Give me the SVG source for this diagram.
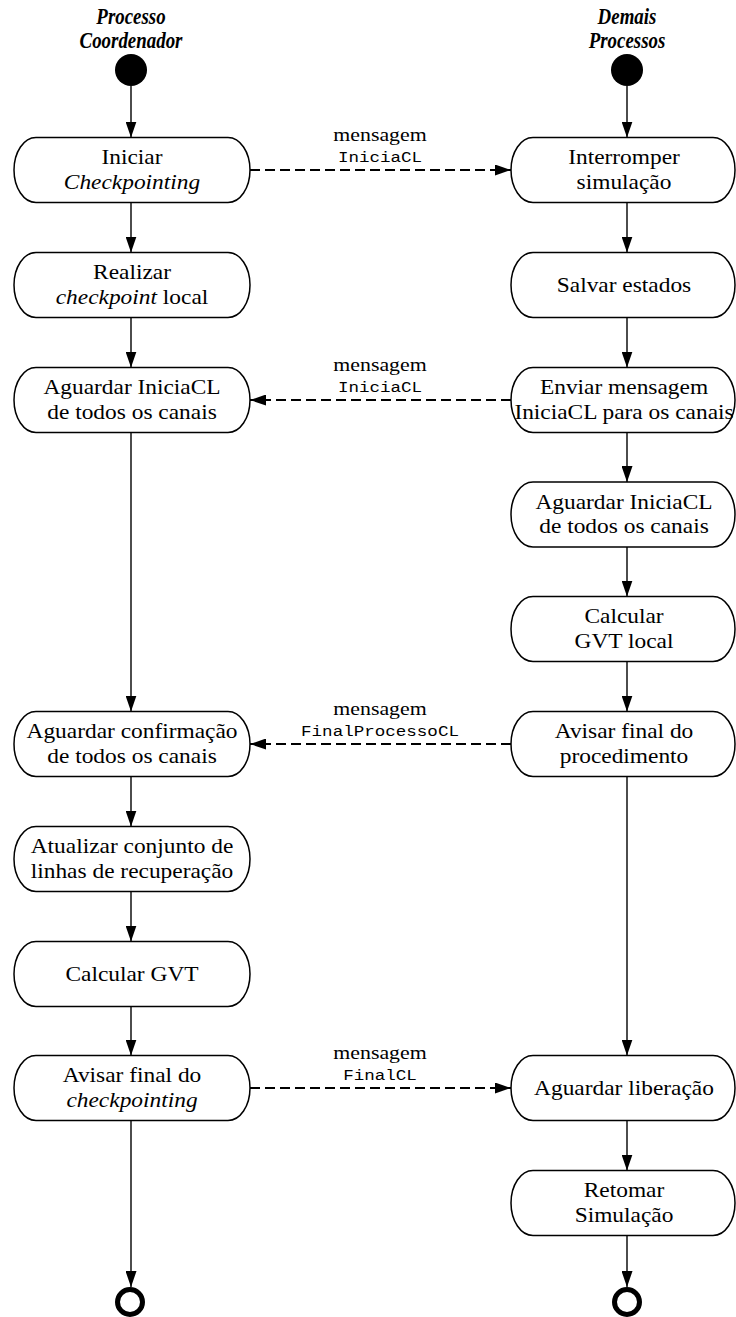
<svg xmlns="http://www.w3.org/2000/svg" width="736" height="1317" viewBox="0 0 736 1317">
  <defs>
    <style>
      .box { fill: #fff; stroke: #000; stroke-width: 1.5; }
      .t { font-family: "Liberation Serif", "Times New Roman", serif; font-size: 20px; fill: #000; text-anchor: middle; }
      .i { font-style: italic; }
      .title { font-family: "Liberation Serif", "Times New Roman", serif; font-size: 21px; font-weight: bold; font-style: italic; fill: #000; text-anchor: middle; }
      .lbl { font-family: "Liberation Serif", "Times New Roman", serif; font-size: 19px; fill: #000; text-anchor: middle; }
      .mono { font-family: "Liberation Mono", "Courier New", monospace; font-size: 15px; fill: #000; text-anchor: middle; }
      .flow { fill: none; stroke: #000; stroke-width: 1.4; marker-end: url(#ah); }
      .msg { fill: none; stroke: #000; stroke-width: 2; stroke-dasharray: 10 5; marker-end: url(#ah); }
    </style>
    <marker id="ah" viewBox="0 0 16 11" refX="16" refY="5.5" markerWidth="16" markerHeight="11" markerUnits="userSpaceOnUse" orient="auto">
      <path d="M0,0 L16,5.5 L0,11 z" fill="#000"/>
    </marker>
  </defs>

  <!-- swimlane titles -->
  <g id="lane-coord">
    <text class="title" transform="translate(131,24) scale(0.9,1.1)">Processo</text>
    <text class="title" transform="translate(131,48) scale(0.9,1.1)">Coordenador</text>
  </g>
  <g id="lane-demais">
    <text class="title" transform="translate(627,24) scale(0.9,1.1)">Demais</text>
    <text class="title" transform="translate(627,48) scale(0.9,1.1)">Processos</text>
  </g>

  <!-- initial and final states -->
  <g id="start-coord"><circle cx="131" cy="70" r="16" fill="#000"/></g>
  <g id="start-demais"><circle cx="627" cy="70" r="16" fill="#000"/></g>
  <g id="end-coord"><circle cx="130" cy="1302" r="12.5" fill="none" stroke="#000" stroke-width="5"/></g>
  <g id="end-demais"><circle cx="627" cy="1302" r="12.5" fill="none" stroke="#000" stroke-width="5"/></g>

  <!-- coordinator activities -->
  <g id="c-iniciar">
    <rect class="box" x="14" y="137.5" width="236" height="65" rx="22" ry="32.5"/>
    <text class="t" transform="translate(132,170) scale(1.17,1)"><tspan x="0" y="-6">Iniciar</tspan><tspan x="0" y="19" class="i">Checkpointing</tspan></text>
  </g>
  <g id="c-realizar">
    <rect class="box" x="14" y="252.5" width="236" height="65" rx="22" ry="32.5"/>
    <text class="t" transform="translate(132,285) scale(1.17,1)"><tspan x="0" y="-6">Realizar</tspan><tspan x="0" y="19"><tspan class="i">checkpoint</tspan> local</tspan></text>
  </g>
  <g id="c-aguardar-inicia">
    <rect class="box" x="14" y="367.5" width="236" height="65" rx="22" ry="32.5"/>
    <text class="t" transform="translate(132,400) scale(1.17,1)"><tspan x="0" y="-6">Aguardar IniciaCL</tspan><tspan x="0" y="19">de todos os canais</tspan></text>
  </g>
  <g id="c-aguardar-conf">
    <rect class="box" x="14" y="711.5" width="236" height="65" rx="22" ry="32.5"/>
    <text class="t" transform="translate(132,744) scale(1.17,1)"><tspan x="0" y="-6">Aguardar confirmação</tspan><tspan x="0" y="19">de todos os canais</tspan></text>
  </g>
  <g id="c-atualizar">
    <rect class="box" x="14" y="826.5" width="236" height="65" rx="22" ry="32.5"/>
    <text class="t" transform="translate(132,859) scale(1.17,1)"><tspan x="0" y="-6">Atualizar conjunto de</tspan><tspan x="0" y="19">linhas de recuperação</tspan></text>
  </g>
  <g id="c-gvt">
    <rect class="box" x="14" y="941.5" width="236" height="65" rx="22" ry="32.5"/>
    <text class="t" transform="translate(132,974) scale(1.17,1)"><tspan x="0" y="7">Calcular GVT</tspan></text>
  </g>
  <g id="c-avisar">
    <rect class="box" x="14" y="1055.5" width="236" height="65" rx="22" ry="32.5"/>
    <text class="t" transform="translate(132,1088) scale(1.17,1)"><tspan x="0" y="-6">Avisar final do</tspan><tspan x="0" y="19" class="i">checkpointing</tspan></text>
  </g>

  <!-- other processes activities -->
  <g id="d-interromper">
    <rect class="box" x="511" y="137.5" width="224" height="65" rx="22" ry="32.5"/>
    <text class="t" transform="translate(624,170) scale(1.17,1)"><tspan x="0" y="-6">Interromper</tspan><tspan x="0" y="19">simulação</tspan></text>
  </g>
  <g id="d-salvar">
    <rect class="box" x="511" y="252.5" width="224" height="65" rx="22" ry="32.5"/>
    <text class="t" transform="translate(624,285) scale(1.17,1)"><tspan x="0" y="7">Salvar estados</tspan></text>
  </g>
  <g id="d-enviar">
    <rect class="box" x="511" y="367.5" width="224" height="65" rx="22" ry="32.5"/>
    <text class="t" transform="translate(624,400) scale(1.17,1)"><tspan x="0" y="-6">Enviar mensagem</tspan><tspan x="0" y="19">IniciaCL para os canais</tspan></text>
  </g>
  <g id="d-aguardar-inicia">
    <rect class="box" x="511" y="482" width="224" height="65" rx="22" ry="32.5"/>
    <text class="t" transform="translate(624,514.5) scale(1.17,1)"><tspan x="0" y="-6">Aguardar IniciaCL</tspan><tspan x="0" y="19">de todos os canais</tspan></text>
  </g>
  <g id="d-gvt-local">
    <rect class="box" x="511" y="596.5" width="224" height="65" rx="22" ry="32.5"/>
    <text class="t" transform="translate(624,629) scale(1.17,1)"><tspan x="0" y="-6">Calcular</tspan><tspan x="0" y="19">GVT local</tspan></text>
  </g>
  <g id="d-avisar">
    <rect class="box" x="511" y="711.5" width="224" height="65" rx="22" ry="32.5"/>
    <text class="t" transform="translate(624,744) scale(1.17,1)"><tspan x="0" y="-6">Avisar final do</tspan><tspan x="0" y="19">procedimento</tspan></text>
  </g>
  <g id="d-liberacao">
    <rect class="box" x="511" y="1055.5" width="224" height="65" rx="22" ry="32.5"/>
    <text class="t" transform="translate(624,1088) scale(1.17,1)"><tspan x="0" y="7">Aguardar liberação</tspan></text>
  </g>
  <g id="d-retomar">
    <rect class="box" x="511" y="1170.5" width="224" height="65" rx="22" ry="32.5"/>
    <text class="t" transform="translate(624,1203) scale(1.17,1)"><tspan x="0" y="-6">Retomar</tspan><tspan x="0" y="19">Simulação</tspan></text>
  </g>

  <!-- connectors -->
  <g id="connectors">
    <!-- coordinator flow -->
    <line class="flow" x1="131" y1="86" x2="131" y2="137.5"/>
    <line class="flow" x1="131" y1="202.5" x2="131" y2="252.5"/>
    <line class="flow" x1="131" y1="317.5" x2="131" y2="367.5"/>
    <line class="flow" x1="131" y1="432.5" x2="131" y2="711.5"/>
    <line class="flow" x1="131" y1="776.5" x2="131" y2="826.5"/>
    <line class="flow" x1="131" y1="891.5" x2="131" y2="941.5"/>
    <line class="flow" x1="131" y1="1006.5" x2="131" y2="1055.5"/>
    <line class="flow" x1="131" y1="1120.5" x2="131" y2="1287"/>
    <!-- other processes flow -->
    <line class="flow" x1="627" y1="86" x2="627" y2="137.5"/>
    <line class="flow" x1="627" y1="202.5" x2="627" y2="252.5"/>
    <line class="flow" x1="627" y1="317.5" x2="627" y2="367.5"/>
    <line class="flow" x1="627" y1="432.5" x2="627" y2="482"/>
    <line class="flow" x1="627" y1="547" x2="627" y2="596.5"/>
    <line class="flow" x1="627" y1="661.5" x2="627" y2="711.5"/>
    <line class="flow" x1="627" y1="776.5" x2="627" y2="1055.5"/>
    <line class="flow" x1="627" y1="1120.5" x2="627" y2="1170.5"/>
    <line class="flow" x1="627" y1="1235.5" x2="627" y2="1287"/>

    <!-- messages -->
    <line class="msg" x1="250" y1="170" x2="511" y2="170"/>
    <text class="lbl" transform="translate(380,141) scale(1.15,1)">mensagem</text>
    <text class="mono" transform="translate(380,162) scale(1.17,1)">IniciaCL</text>

    <line class="msg" x1="511" y1="400" x2="250" y2="400"/>
    <text class="lbl" transform="translate(380,371) scale(1.15,1)">mensagem</text>
    <text class="mono" transform="translate(380,392) scale(1.17,1)">IniciaCL</text>

    <line class="msg" x1="511" y1="744" x2="250" y2="744"/>
    <text class="lbl" transform="translate(380,715) scale(1.15,1)">mensagem</text>
    <text class="mono" transform="translate(380,736) scale(1.17,1)">FinalProcessoCL</text>

    <line class="msg" x1="250" y1="1088" x2="511" y2="1088"/>
    <text class="lbl" transform="translate(380,1059) scale(1.15,1)">mensagem</text>
    <text class="mono" transform="translate(380,1080) scale(1.17,1)">FinalCL</text>
  </g>
</svg>
